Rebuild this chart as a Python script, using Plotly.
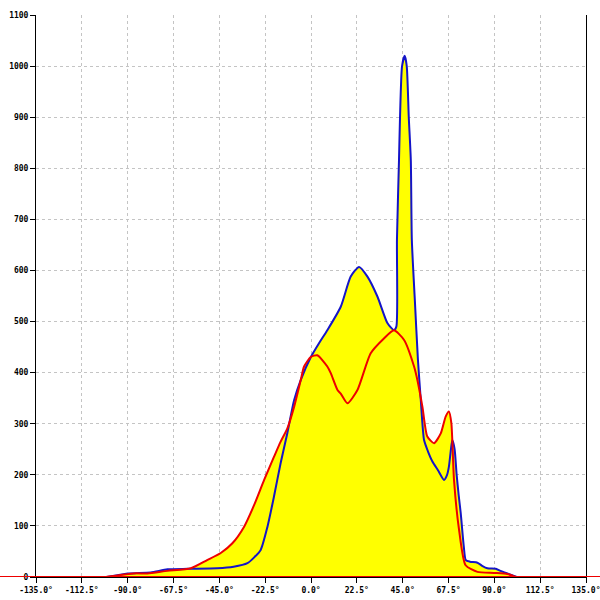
import plotly.graph_objects as go

# Blue series (angle in degrees, value)
blue_deg = [-100.3, -90, -78.7, -70.5, -60.7, -46, -38, -31.2, -28, -24.7, -21.4, -18.2,
            -14.9, -11.6, -8.3, -5, 0, 4, 8, 14.6, 19.5, 23.6, 27.7, 32.6, 37.5, 40.7,
            41.9, 42.2, 43.2, 43.7, 44.7, 46, 47, 48, 49, 49.5, 51, 52.5, 53.9, 55.5,
            57.5, 59.6, 62.5, 65.3, 66.8, 67.7, 68.7, 69.4, 70.5, 71.5, 72.5, 73.5, 75,
            76, 78, 81.7, 84, 86.6, 90.7, 93, 97, 101]
blue_val = [0, 7, 9, 15, 16, 17, 20, 27, 38, 53, 98, 157,
            223, 282, 346, 386, 431, 458, 483, 529, 588, 607, 588, 549, 497, 483,
            490, 660, 816, 900, 1000, 1020, 1000, 900, 816, 660, 540, 425, 346, 268,
            245, 226, 208, 190, 200, 216, 250, 268, 250, 200, 160, 125, 60,
            33, 30, 28, 22, 17, 16, 12, 6, 0]

# Red series
red_deg = [-100.8, -87, -80.3, -70.5, -59, -51, -44.3, -38.6, -32.9, -27.9, -23,
           -18.2, -14.9, -11.6, -8.3, -5, -3.4, 0, 3.1, 8, 9.7, 13, 14.6, 17.9, 22.8,
           29.3, 35.8, 40.7, 45.7, 50.6, 52.2, 54.7, 57.1, 60.4, 63.7, 66.1, 67.7,
           68.9, 70.2, 72.7, 75.9, 81.7, 89.8, 96.4, 100.5]
red_val = [0, 7, 7, 12, 17, 33, 47, 66, 98, 141, 190,
           235, 265, 291, 333, 386, 412, 431, 434, 412, 399, 366, 359, 340, 366,
           438, 467, 483, 464, 412, 386, 333, 275, 262, 281, 314, 324,
           301, 190, 92, 23, 10, 8, 6, 0]

x_ticks = [-135 + 22.5 * i for i in range(13)]
y_ticks = list(range(0, 1101, 100))

YELLOW = "#ffff00"
BLUE = "#1414c8"
RED = "#ee0000"
SMOOTH = 0.6

fig = go.Figure()
for xs, ys in ((blue_deg, blue_val), (red_deg, red_val)):
    fig.add_trace(go.Scatter(x=xs, y=ys, mode="lines", fill="tozeroy",
                             fillcolor=YELLOW, line=dict(width=0, shape="spline", smoothing=SMOOTH),
                             hoverinfo="skip", showlegend=False))
fig.add_trace(go.Scatter(x=blue_deg, y=blue_val, mode="lines",
                         line=dict(color=BLUE, width=2, shape="spline", smoothing=SMOOTH),
                         showlegend=False))
fig.add_trace(go.Scatter(x=red_deg, y=red_val, mode="lines",
                         line=dict(color=RED, width=2, shape="spline", smoothing=SMOOTH),
                         showlegend=False))

# red baseline running across the full width
fig.add_shape(type="line", xref="paper", yref="y", x0=-0.1, x1=1.1, y0=0, y1=0,
              line=dict(color=RED, width=2), layer="above")

font = dict(family="DejaVu Sans Mono", size=8, color="black", weight="bold")
fig.update_layout(
    width=600, height=600,
    margin=dict(l=36, r=14, t=15, b=23, autoexpand=False),
    paper_bgcolor="white", plot_bgcolor="white",
    showlegend=False,
    font=font,
)
fig.update_xaxes(range=[-135, 135], tickvals=x_ticks,
                 ticktext=[f"{v:.1f}°" for v in x_ticks],
                 showline=True, linecolor="black", linewidth=1,
                 ticks="outside", ticklen=5, tickcolor="black",
                 showgrid=True, gridcolor="#c4c4c4", griddash="3px,3px", gridwidth=1,
                 zeroline=False, tickfont=font, automargin=False,
                 ticklabeloverflow="allow")
fig.update_yaxes(range=[0, 1100], tickvals=y_ticks,
                 showline=True, linecolor="black", linewidth=1, mirror=True,
                 ticks="outside", ticklen=5, tickcolor="black",
                 showgrid=True, gridcolor="#c4c4c4", griddash="3px,3px", gridwidth=1,
                 zeroline=False, tickfont=font, automargin=False,
                 ticklabeloverflow="allow")

fig.write_html("out.html", config={"displayModeBar": False},
               post_script="document.body.style.margin='0';document.body.style.overflow='hidden';")
